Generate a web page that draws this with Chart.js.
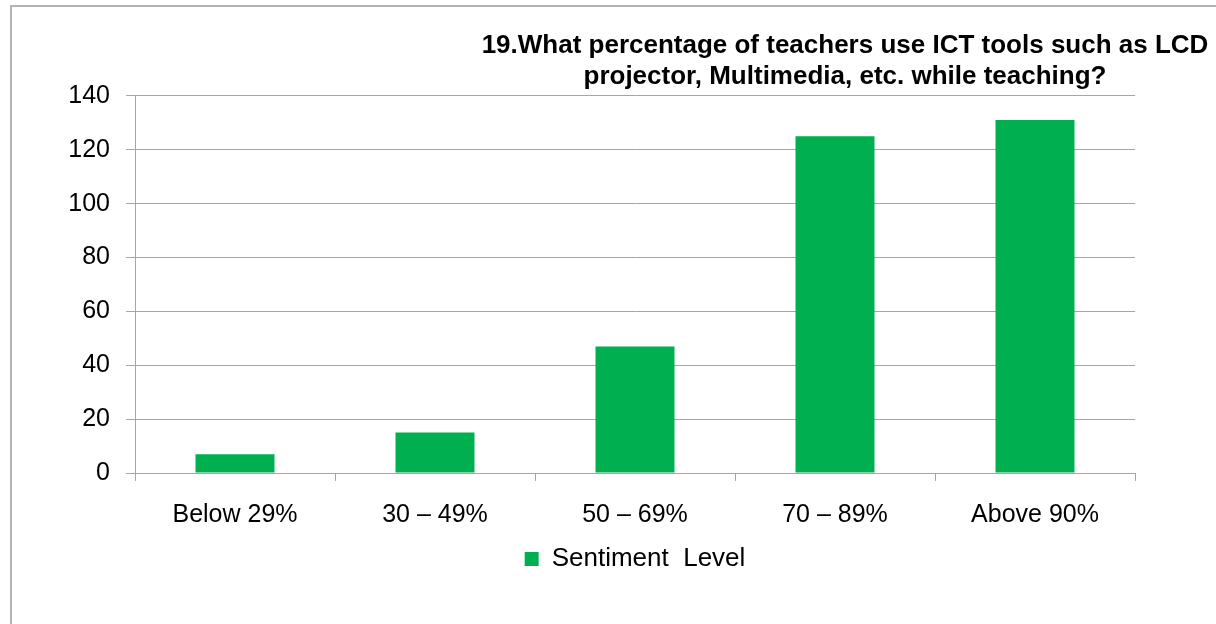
<!DOCTYPE html>
<html>
<head>
<meta charset="utf-8">
<title>ICT tools usage</title>
<script src="https://cdn.jsdelivr.net/npm/chart.js@4.4.1/dist/chart.umd.min.js"></script>
<style>
  html, body { margin: 0; padding: 0; background: #fff; overflow: hidden; }
  #frame {
    position: absolute;
    left: 10px;
    top: 5px;
    border: 2px solid #b4b4b4;
    width: 1666px;
    height: 700px;
  }
  #chart { display: block; }
</style>
</head>
<body>
<div id="frame">
  <canvas id="chart" width="1666" height="700"></canvas>
</div>
<script>
'use strict';

// Data
const categories = ['Below 29%', '30 \u2013 49%', '50 \u2013 69%', '70 \u2013 89%', 'Above 90%'];
const teacherCounts = [7, 15, 47, 125, 131];
const seriesLabel = 'Sentiment  Level';
const titleLines = [
    '19.What percentage of teachers use ICT tools such as LCD',
    'projector, Multimedia, etc. while teaching?'
];
const yTicks = { min: 0, max: 140, step: 20 };

const barColor = '#00b050';
const gridColor = '#a6a6a6';
const fontFamily = 'Arial, "Liberation Sans", sans-serif';

const ctx = document.getElementById('chart').getContext('2d');

const chart = new Chart(ctx, {
    type: 'bar',
    data: {
        labels: categories,
        datasets: [{
            label: seriesLabel,
            data: teacherCounts,
            backgroundColor: barColor,
            borderWidth: 0,
            barPercentage: 0.395,
            categoryPercentage: 1.0
        }]
    },
    options: {
        responsive: false,
        animation: false,
        devicePixelRatio: 1,
        layout: {
            padding: { left: 0, right: 0, top: 0, bottom: 125 }
        },
        plugins: {
            title: {
                display: true,
                text: titleLines,
                color: '#000',
                font: { family: fontFamily, size: 26, weight: 'bold', lineHeight: 1.19 },
                padding: { top: 23.5, bottom: 3.5 }
            },
            legend: {
                display: true,
                position: 'bottom',
                fullSize: false,
                labels: {
                    color: '#000',
                    font: { family: fontFamily, size: 26 },
                    boxWidth: 14,
                    boxHeight: 14,
                    padding: 16
                }
            },
            tooltip: { enabled: false }
        },
        scales: {
            x: {
                grid: {
                    display: true,
                    drawOnChartArea: false,
                    offset: true,
                    tickLength: 8,
                    color: gridColor
                },
                border: { display: true, color: gridColor, width: 1 },
                ticks: {
                    color: '#000',
                    font: { family: fontFamily, size: 25 },
                    padding: 19,
                    maxRotation: 0
                },
                afterFit: function (scale) {
                    scale.height = 57;
                }
            },
            y: {
                min: yTicks.min,
                max: yTicks.max,
                grid: {
                    color: gridColor,
                    tickLength: 9
                },
                border: { display: true, color: gridColor, width: 1 },
                ticks: {
                    stepSize: yTicks.step,
                    color: '#000',
                    font: { family: fontFamily, size: 25 },
                    padding: 16
                },
                afterFit: function (scale) {
                    scale.width = 123;
                }
            },
            // empty spacer on the right so the title sits where the original has it
            spacer: {
                type: 'linear',
                axis: 'y',
                position: 'right',
                display: true,
                grid: { display: false, drawTicks: false },
                border: { display: false },
                ticks: { display: false },
                afterFit: function (scale) {
                    scale.width = 543;
                }
            }
        }
    }
});
</script>
</body>
</html>
